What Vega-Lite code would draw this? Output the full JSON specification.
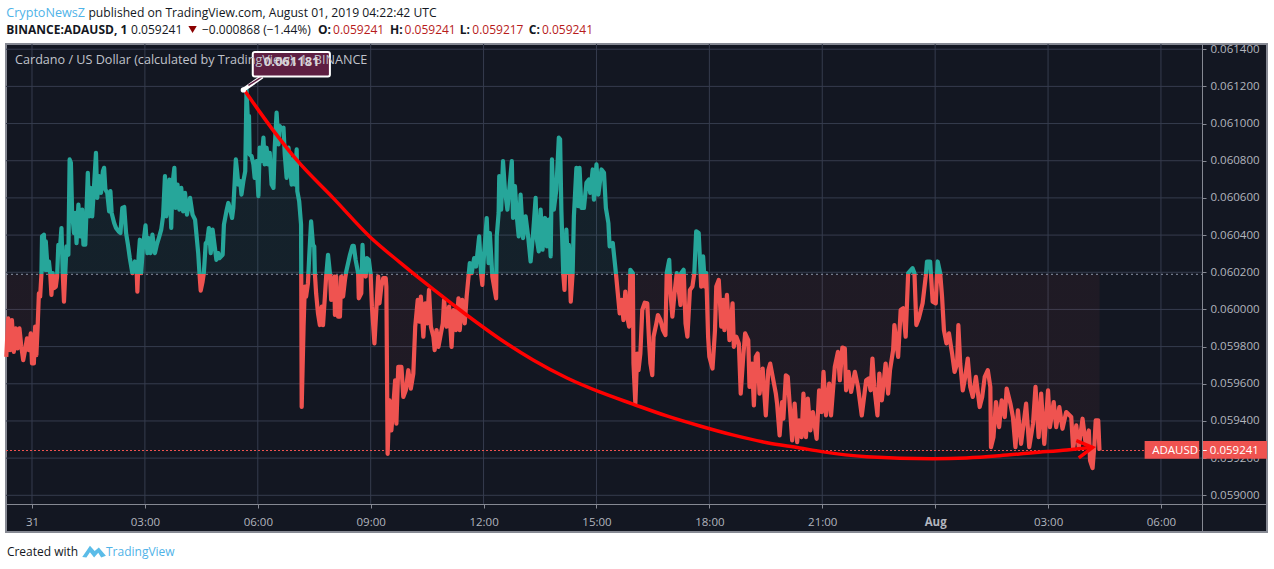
{"$schema":"https://vega.github.io/schema/vega-lite/v6.json","width":1261,"height":488,"autosize":"none","padding":{"left":6,"top":44,"right":7,"bottom":37},"background":"#ffffff","config":{"font":"Open Sans","view":{"fill":"#131722","stroke":"#868993","strokeWidth":2}},"resolve":{"axis":{"x":"independent","y":"independent"}},"data":{"values":[{}]},"datasets":{"gridX":[{"m":0},{"m":180},{"m":360},{"m":540},{"m":720},{"m":900},{"m":1080},{"m":1260},{"m":1440},{"m":1620},{"m":1800}],"gridY":[{"p":0.059},{"p":0.0592},{"p":0.0594},{"p":0.0596},{"p":0.0598},{"p":0.06},{"p":0.0602},{"p":0.0604},{"p":0.0606},{"p":0.0608},{"p":0.061},{"p":0.0612},{"p":0.0614}],"curve":[{"m":339.5,"p":0.061175},{"m":384,"p":0.060966},{"m":422,"p":0.060804},{"m":480,"p":0.0606},{"m":539,"p":0.06039},{"m":587,"p":0.060252},{"m":639,"p":0.06011},{"m":693,"p":0.05997},{"m":746,"p":0.059841},{"m":799,"p":0.059728},{"m":853,"p":0.059631},{"m":905,"p":0.059556},{"m":958,"p":0.059491},{"m":1012,"p":0.059427},{"m":1065,"p":0.059373},{"m":1117,"p":0.059325},{"m":1172,"p":0.059283},{"m":1224,"p":0.059255},{"m":1259,"p":0.059235},{"m":1331,"p":0.059208},{"m":1436,"p":0.059197},{"m":1490,"p":0.059201},{"m":1543,"p":0.059213},{"m":1596,"p":0.059229},{"m":1650,"p":0.059244},{"m":1691,"p":0.059258}],"arrow":[{"k":1,"m":1665,"p":0.059294},{"k":2,"m":1691,"p":0.059258},{"k":3,"m":1669,"p":0.059201}],"price":[{"m":-41,"p":0.059745},{"m":-38,"p":0.059952},{"m":-35,"p":0.059781},{"m":-32,"p":0.059943},{"m":-29,"p":0.059772},{"m":-26,"p":0.059898},{"m":-23,"p":0.05979},{"m":-20,"p":0.059898},{"m":-17,"p":0.059799},{"m":-14,"p":0.059727},{"m":-11,"p":0.059781},{"m":-8,"p":0.059844},{"m":-5,"p":0.059781},{"m":-2,"p":0.059871},{"m":0,"p":0.059709},{"m":3,"p":0.059709},{"m":5,"p":0.059907},{"m":7,"p":0.059754},{"m":9,"p":0.059907},{"m":11,"p":0.060087},{"m":13,"p":0.060069},{"m":15,"p":0.060186},{"m":16,"p":0.060393},{"m":19,"p":0.060402},{"m":21,"p":0.060213},{"m":22,"p":0.060366},{"m":25,"p":0.060213},{"m":27,"p":0.060258},{"m":29,"p":0.060195},{"m":31,"p":0.060078},{"m":33,"p":0.060195},{"m":35,"p":0.060114},{"m":38,"p":0.060123},{"m":40,"p":0.060177},{"m":42,"p":0.060348},{"m":45,"p":0.060348},{"m":47,"p":0.060438},{"m":49,"p":0.060195},{"m":51,"p":0.060042},{"m":53,"p":0.060195},{"m":55,"p":0.060339},{"m":58,"p":0.060294},{"m":60,"p":0.060807},{"m":62,"p":0.060789},{"m":64,"p":0.060519},{"m":67,"p":0.060411},{"m":69,"p":0.060519},{"m":71,"p":0.060357},{"m":74,"p":0.060564},{"m":77,"p":0.060393},{"m":80,"p":0.060537},{"m":82,"p":0.060348},{"m":85,"p":0.060348},{"m":89,"p":0.060735},{"m":91,"p":0.060501},{"m":93,"p":0.060654},{"m":96,"p":0.060501},{"m":98,"p":0.060609},{"m":102,"p":0.060843},{"m":104,"p":0.0606},{"m":107,"p":0.060717},{"m":110,"p":0.060627},{"m":113,"p":0.060744},{"m":115,"p":0.060762},{"m":117,"p":0.060645},{"m":120,"p":0.060627},{"m":123,"p":0.060528},{"m":125,"p":0.060636},{"m":127,"p":0.060519},{"m":131,"p":0.060465},{"m":134,"p":0.060438},{"m":138,"p":0.06042},{"m":141,"p":0.060411},{"m":144,"p":0.060546},{"m":147,"p":0.060551},{"m":150,"p":0.060411},{"m":153,"p":0.060348},{"m":156,"p":0.060276},{"m":160,"p":0.060195},{"m":164,"p":0.060258},{"m":167,"p":0.060195},{"m":168,"p":0.060096},{"m":170,"p":0.060285},{"m":172,"p":0.060375},{"m":174,"p":0.060195},{"m":177,"p":0.060339},{"m":181,"p":0.060452},{"m":184,"p":0.060303},{"m":186,"p":0.060384},{"m":189,"p":0.060303},{"m":192,"p":0.060402},{"m":196,"p":0.060303},{"m":199,"p":0.060348},{"m":203,"p":0.060393},{"m":206,"p":0.060429},{"m":209,"p":0.060501},{"m":212,"p":0.060717},{"m":214,"p":0.060501},{"m":217,"p":0.060564},{"m":219,"p":0.060699},{"m":222,"p":0.060438},{"m":224,"p":0.060672},{"m":227,"p":0.060762},{"m":229,"p":0.060546},{"m":232,"p":0.060672},{"m":235,"p":0.060537},{"m":238,"p":0.060654},{"m":241,"p":0.060528},{"m":244,"p":0.060627},{"m":247,"p":0.06051},{"m":252,"p":0.0606},{"m":256,"p":0.06051},{"m":260,"p":0.060483},{"m":262,"p":0.060411},{"m":265,"p":0.060303},{"m":267,"p":0.060195},{"m":269,"p":0.060101},{"m":272,"p":0.06015},{"m":274,"p":0.060195},{"m":277,"p":0.060357},{"m":279,"p":0.060357},{"m":282,"p":0.060438},{"m":285,"p":0.060303},{"m":288,"p":0.060429},{"m":291,"p":0.060348},{"m":294,"p":0.060267},{"m":297,"p":0.060303},{"m":299,"p":0.060276},{"m":304,"p":0.060294},{"m":306,"p":0.060456},{"m":310,"p":0.060528},{"m":313,"p":0.060573},{"m":316,"p":0.060537},{"m":319,"p":0.060492},{"m":321,"p":0.060546},{"m":325,"p":0.060807},{"m":327,"p":0.060744},{"m":329,"p":0.060672},{"m":332,"p":0.06069},{"m":334,"p":0.060618},{"m":337,"p":0.06069},{"m":340,"p":0.060744},{"m":342,"p":0.061181},{"m":344,"p":0.061032},{"m":346,"p":0.061041},{"m":347,"p":0.060834},{"m":350,"p":0.060825},{"m":353,"p":0.06078},{"m":355,"p":0.060708},{"m":358,"p":0.060798},{"m":361,"p":0.060609},{"m":363,"p":0.06087},{"m":366,"p":0.060798},{"m":369,"p":0.060924},{"m":371,"p":0.06078},{"m":374,"p":0.06087},{"m":377,"p":0.06078},{"m":379,"p":0.060843},{"m":382,"p":0.060672},{"m":385,"p":0.060654},{"m":387,"p":0.06087},{"m":390,"p":0.061059},{"m":393,"p":0.060888},{"m":395,"p":0.060987},{"m":398,"p":0.060969},{"m":401,"p":0.060978},{"m":403,"p":0.060834},{"m":406,"p":0.060708},{"m":409,"p":0.06087},{"m":411,"p":0.06078},{"m":414,"p":0.060672},{"m":417,"p":0.060816},{"m":419,"p":0.060672},{"m":422,"p":0.060861},{"m":423,"p":0.060636},{"m":426,"p":0.060582},{"m":429,"p":0.060456},{"m":430,"p":0.059475},{"m":433,"p":0.059907},{"m":435,"p":0.060123},{"m":437,"p":0.060069},{"m":440,"p":0.060141},{"m":442,"p":0.060285},{"m":445,"p":0.060474},{"m":448,"p":0.060348},{"m":450,"p":0.060339},{"m":451,"p":0.060195},{"m":453,"p":0.060087},{"m":456,"p":0.059979},{"m":459,"p":0.059916},{"m":462,"p":0.060015},{"m":464,"p":0.059916},{"m":467,"p":0.060069},{"m":469,"p":0.060177},{"m":472,"p":0.060294},{"m":475,"p":0.060195},{"m":477,"p":0.060051},{"m":482,"p":0.060177},{"m":483,"p":0.05997},{"m":485,"p":0.060177},{"m":488,"p":0.059961},{"m":491,"p":0.059961},{"m":493,"p":0.060177},{"m":496,"p":0.060069},{"m":499,"p":0.060159},{"m":501,"p":0.060204},{"m":507,"p":0.060294},{"m":511,"p":0.060342},{"m":513,"p":0.060342},{"m":516,"p":0.060267},{"m":520,"p":0.060195},{"m":521,"p":0.06006},{"m":525,"p":0.060087},{"m":527,"p":0.060348},{"m":529,"p":0.060195},{"m":532,"p":0.060177},{"m":534,"p":0.060276},{"m":537,"p":0.060267},{"m":540,"p":0.060186},{"m":542,"p":0.060015},{"m":546,"p":0.059817},{"m":549,"p":0.059997},{"m":552,"p":0.060177},{"m":554,"p":0.060033},{"m":557,"p":0.060123},{"m":560,"p":0.060168},{"m":564,"p":0.060168},{"m":565,"p":0.060123},{"m":567,"p":0.059223},{"m":570,"p":0.059511},{"m":573,"p":0.059349},{"m":576,"p":0.059475},{"m":579,"p":0.059619},{"m":581,"p":0.059385},{"m":584,"p":0.059691},{"m":589,"p":0.059691},{"m":592,"p":0.059529},{"m":596,"p":0.059565},{"m":600,"p":0.059673},{"m":604,"p":0.059574},{"m":608,"p":0.059655},{"m":611,"p":0.059907},{"m":615,"p":0.060051},{"m":618,"p":0.059934},{"m":620,"p":0.060069},{"m":624,"p":0.059853},{"m":627,"p":0.060033},{"m":630,"p":0.059925},{"m":633,"p":0.060105},{"m":636,"p":0.059907},{"m":640,"p":0.059853},{"m":642,"p":0.059781},{"m":645,"p":0.059889},{"m":648,"p":0.059799},{"m":652,"p":0.059871},{"m":655,"p":0.059925},{"m":657,"p":0.060051},{"m":661,"p":0.059907},{"m":665,"p":0.060015},{"m":669,"p":0.059799},{"m":672,"p":0.059997},{"m":676,"p":0.059889},{"m":680,"p":0.06006},{"m":682,"p":0.059889},{"m":686,"p":0.060051},{"m":690,"p":0.059925},{"m":693,"p":0.060069},{"m":696,"p":0.060177},{"m":698,"p":0.060249},{"m":701,"p":0.060195},{"m":705,"p":0.060276},{"m":708,"p":0.060231},{"m":713,"p":0.060393},{"m":716,"p":0.060195},{"m":718,"p":0.060132},{"m":720,"p":0.060258},{"m":725,"p":0.060492},{"m":728,"p":0.060249},{"m":730,"p":0.060411},{"m":734,"p":0.060177},{"m":740,"p":0.06006},{"m":741,"p":0.060393},{"m":744,"p":0.060519},{"m":745,"p":0.060717},{"m":748,"p":0.060537},{"m":751,"p":0.060798},{"m":754,"p":0.060645},{"m":758,"p":0.060537},{"m":761,"p":0.060645},{"m":765,"p":0.060798},{"m":767,"p":0.060492},{"m":770,"p":0.060663},{"m":773,"p":0.060501},{"m":776,"p":0.060393},{"m":779,"p":0.060618},{"m":783,"p":0.060384},{"m":787,"p":0.060501},{"m":791,"p":0.060393},{"m":795,"p":0.060258},{"m":799,"p":0.060411},{"m":803,"p":0.0606},{"m":805,"p":0.060375},{"m":808,"p":0.060312},{"m":811,"p":0.060537},{"m":814,"p":0.060321},{"m":818,"p":0.060492},{"m":821,"p":0.060339},{"m":824,"p":0.060483},{"m":827,"p":0.060285},{"m":829,"p":0.060807},{"m":832,"p":0.060537},{"m":836,"p":0.060645},{"m":840,"p":0.060924},{"m":842,"p":0.060915},{"m":844,"p":0.060537},{"m":847,"p":0.060195},{"m":849,"p":0.060105},{"m":852,"p":0.060429},{"m":855,"p":0.060195},{"m":856,"p":0.060348},{"m":859,"p":0.060042},{"m":862,"p":0.060195},{"m":864,"p":0.060501},{"m":868,"p":0.060762},{"m":871,"p":0.060555},{"m":873,"p":0.060762},{"m":876,"p":0.060546},{"m":880,"p":0.060546},{"m":884,"p":0.060681},{"m":888,"p":0.060699},{"m":890,"p":0.060627},{"m":894,"p":0.060753},{"m":896,"p":0.060591},{"m":900,"p":0.06078},{"m":903,"p":0.060618},{"m":908,"p":0.060753},{"m":912,"p":0.060735},{"m":915,"p":0.060546},{"m":919,"p":0.060465},{"m":921,"p":0.060339},{"m":926,"p":0.060357},{"m":931,"p":0.060195},{"m":934,"p":0.060087},{"m":937,"p":0.059979},{"m":940,"p":0.060051},{"m":943,"p":0.059943},{"m":946,"p":0.060096},{"m":949,"p":0.059961},{"m":952,"p":0.059907},{"m":954,"p":0.060213},{"m":958,"p":0.060195},{"m":959,"p":0.059709},{"m":962,"p":0.059493},{"m":965,"p":0.059763},{"m":967,"p":0.059673},{"m":970,"p":0.059763},{"m":973,"p":0.059997},{"m":977,"p":0.060036},{"m":981,"p":0.060033},{"m":984,"p":0.059817},{"m":986,"p":0.059709},{"m":989,"p":0.059646},{"m":991,"p":0.059853},{"m":995,"p":0.059916},{"m":998,"p":0.05997},{"m":1002,"p":0.059943},{"m":1006,"p":0.059889},{"m":1010,"p":0.059862},{"m":1012,"p":0.060195},{"m":1016,"p":0.060267},{"m":1018,"p":0.060087},{"m":1021,"p":0.059961},{"m":1025,"p":0.060105},{"m":1028,"p":0.060195},{"m":1034,"p":0.060024},{"m":1035,"p":0.060195},{"m":1039,"p":0.060213},{"m":1042,"p":0.059925},{"m":1045,"p":0.059853},{"m":1049,"p":0.060105},{"m":1053,"p":0.060123},{"m":1056,"p":0.060195},{"m":1059,"p":0.06042},{"m":1063,"p":0.060411},{"m":1066,"p":0.060195},{"m":1067,"p":0.060123},{"m":1070,"p":0.060285},{"m":1073,"p":0.060123},{"m":1075,"p":0.060195},{"m":1078,"p":0.059853},{"m":1080,"p":0.059745},{"m":1085,"p":0.059682},{"m":1089,"p":0.059889},{"m":1091,"p":0.060123},{"m":1095,"p":0.060159},{"m":1099,"p":0.059907},{"m":1102,"p":0.060051},{"m":1104,"p":0.059889},{"m":1108,"p":0.060078},{"m":1112,"p":0.059835},{"m":1117,"p":0.060033},{"m":1119,"p":0.059799},{"m":1123,"p":0.059853},{"m":1127,"p":0.059817},{"m":1130,"p":0.059547},{"m":1134,"p":0.059745},{"m":1137,"p":0.059871},{"m":1142,"p":0.059835},{"m":1144,"p":0.059583},{"m":1148,"p":0.059709},{"m":1151,"p":0.059484},{"m":1154,"p":0.059745},{"m":1157,"p":0.059763},{"m":1160,"p":0.059547},{"m":1165,"p":0.059682},{"m":1170,"p":0.05943},{"m":1174,"p":0.059673},{"m":1177,"p":0.059709},{"m":1181,"p":0.059637},{"m":1186,"p":0.059547},{"m":1188,"p":0.059493},{"m":1192,"p":0.059322},{"m":1196,"p":0.059502},{"m":1198,"p":0.059412},{"m":1202,"p":0.059646},{"m":1205,"p":0.059637},{"m":1208,"p":0.059493},{"m":1212,"p":0.059295},{"m":1216,"p":0.059493},{"m":1220,"p":0.059286},{"m":1223,"p":0.059403},{"m":1227,"p":0.059313},{"m":1230,"p":0.059547},{"m":1234,"p":0.059313},{"m":1237,"p":0.05952},{"m":1241,"p":0.059349},{"m":1245,"p":0.059448},{"m":1251,"p":0.059304},{"m":1255,"p":0.059565},{"m":1259,"p":0.059448},{"m":1262,"p":0.059664},{"m":1266,"p":0.05943},{"m":1271,"p":0.059601},{"m":1274,"p":0.05943},{"m":1280,"p":0.059691},{"m":1285,"p":0.059772},{"m":1288,"p":0.059619},{"m":1292,"p":0.059795},{"m":1296,"p":0.05979},{"m":1298,"p":0.059565},{"m":1302,"p":0.059664},{"m":1306,"p":0.059556},{"m":1312,"p":0.059664},{"m":1317,"p":0.059583},{"m":1323,"p":0.05943},{"m":1330,"p":0.059619},{"m":1334,"p":0.059628},{"m":1337,"p":0.059565},{"m":1340,"p":0.059736},{"m":1343,"p":0.059583},{"m":1348,"p":0.05943},{"m":1351,"p":0.059655},{"m":1355,"p":0.059511},{"m":1361,"p":0.059709},{"m":1365,"p":0.059547},{"m":1368,"p":0.059673},{"m":1373,"p":0.059781},{"m":1375,"p":0.059916},{"m":1381,"p":0.059745},{"m":1385,"p":0.059997},{"m":1389,"p":0.060006},{"m":1393,"p":0.059853},{"m":1397,"p":0.060195},{"m":1404,"p":0.060222},{"m":1407,"p":0.060195},{"m":1410,"p":0.059916},{"m":1414,"p":0.059952},{"m":1420,"p":0.060033},{"m":1425,"p":0.060177},{"m":1427,"p":0.060258},{"m":1432,"p":0.060258},{"m":1436,"p":0.060042},{"m":1441,"p":0.060033},{"m":1444,"p":0.060258},{"m":1448,"p":0.060195},{"m":1451,"p":0.060069},{"m":1454,"p":0.059889},{"m":1458,"p":0.059817},{"m":1462,"p":0.059871},{"m":1467,"p":0.059763},{"m":1471,"p":0.059664},{"m":1475,"p":0.059709},{"m":1477,"p":0.059916},{"m":1480,"p":0.059709},{"m":1484,"p":0.059565},{"m":1488,"p":0.059637},{"m":1492,"p":0.059736},{"m":1496,"p":0.059583},{"m":1500,"p":0.059529},{"m":1505,"p":0.059637},{"m":1511,"p":0.059475},{"m":1515,"p":0.059529},{"m":1519,"p":0.059637},{"m":1524,"p":0.059673},{"m":1528,"p":0.059583},{"m":1529,"p":0.059259},{"m":1533,"p":0.059313},{"m":1537,"p":0.059502},{"m":1542,"p":0.059367},{"m":1546,"p":0.059511},{"m":1551,"p":0.059421},{"m":1554,"p":0.059574},{"m":1560,"p":0.059493},{"m":1564,"p":0.059421},{"m":1568,"p":0.059259},{"m":1572,"p":0.059457},{"m":1577,"p":0.059277},{"m":1585,"p":0.059493},{"m":1590,"p":0.059259},{"m":1596,"p":0.059385},{"m":1600,"p":0.059583},{"m":1605,"p":0.059313},{"m":1609,"p":0.059547},{"m":1614,"p":0.059277},{"m":1620,"p":0.059565},{"m":1623,"p":0.059367},{"m":1629,"p":0.059502},{"m":1633,"p":0.059367},{"m":1638,"p":0.059475},{"m":1643,"p":0.059358},{"m":1649,"p":0.059448},{"m":1657,"p":0.059421},{"m":1660,"p":0.05925},{"m":1665,"p":0.059376},{"m":1669,"p":0.059259},{"m":1675,"p":0.059412},{"m":1680,"p":0.059277},{"m":1685,"p":0.059349},{"m":1687,"p":0.059187},{"m":1691,"p":0.059147},{"m":1694,"p":0.059277},{"m":1696,"p":0.059403},{"m":1700,"p":0.059403},{"m":1702,"p":0.059241}]},"layer":[{"data":{"name":"gridX"},"mark":{"type":"rule","color":"#363c4e","strokeWidth":1},"encoding":{"x":{"field":"m","type":"quantitative","scale":{"domain":[-41.45,1969.1],"nice":false,"zero":false},"axis":{"title":null,"orient":"bottom","offset":-28,"grid":false,"values":[0,180,360,540,720,900,1080,1260,1440,1620,1800],"labelExpr":"datum.value==0?'31':datum.value==1440?'Aug':utcFormat(datum.value*60000,'%H:%M')","labelFontSize":11.5,"labelColor":"#b2b5be","labelFontWeight":{"condition":{"test":"datum.value==1440","value":"bold"},"value":"normal"},"labelPadding":8,"tickSize":4,"tickColor":"#868993","domainColor":"#868993","labelOverlap":false}},"y":{"datum":0.061428,"scale":{"domain":[0.0588026,0.061428],"nice":false,"zero":false},"axis":null},"y2":{"datum":0.0589535}}},{"data":{"name":"gridY"},"mark":{"type":"rule","color":"#363c4e","strokeWidth":1},"encoding":{"y":{"field":"p","type":"quantitative","axis":{"title":null,"orient":"right","offset":-65,"grid":false,"values":[0.059,0.0592,0.0594,0.0596,0.0598,0.06,0.0602,0.0604,0.0606,0.0608,0.061,0.0612,0.0614],"format":".6f","labelFontSize":11.5,"labelColor":"#b2b5be","labelPadding":4,"tickSize":4,"tickColor":"#868993","domainColor":"#868993","labelOverlap":false}},"x":{"datum":-41.45,"axis":null},"x2":{"datum":1865.5}}},{"data":{"name":"price"},"mark":{"type":"area","fill":{"gradient":"linear","x1":0,"y1":0,"x2":0,"y2":1,"stops":[{"offset":0,"color":"rgba(38,166,154,0.07)"},{"offset":0.4877,"color":"rgba(38,166,154,0.07)"},{"offset":0.4877,"color":"rgba(239,83,80,0.055)"},{"offset":1,"color":"rgba(239,83,80,0.055)"}]}},"encoding":{"x":{"field":"m","type":"quantitative","axis":null},"y":{"field":"p","type":"quantitative","axis":null},"y2":{"datum":0.060189}}},{"mark":{"type":"rule","color":"#8a93a6","strokeDash":[2,3],"strokeWidth":1},"encoding":{"y":{"datum":0.060189,"axis":null},"x":{"datum":-41.45,"axis":null},"x2":{"datum":1865.5}}},{"data":{"name":"price"},"mark":{"type":"line","strokeWidth":4.2,"strokeJoin":"round","stroke":{"gradient":"linear","x1":0,"y1":0,"x2":0,"y2":1,"stops":[{"offset":0,"color":"#26a69a"},{"offset":0.4877,"color":"#26a69a"},{"offset":0.4877,"color":"#ef5350"},{"offset":1,"color":"#ef5350"}]}},"encoding":{"x":{"field":"m","type":"quantitative","axis":null},"y":{"field":"p","type":"quantitative","axis":null}}},{"mark":{"type":"rule","color":"#ef5350","strokeDash":[2,2],"strokeWidth":1},"encoding":{"y":{"datum":0.059241,"axis":null},"x":{"datum":-41.45,"axis":null},"x2":{"datum":1865.5}}},{"mark":{"type":"rect","fill":"#ef5350"},"encoding":{"x":{"datum":1774,"axis":null},"x2":{"datum":1861},"y":{"datum":0.059292,"axis":null},"y2":{"datum":0.059197}}},{"mark":{"type":"rect","fill":"#ef5350"},"encoding":{"x":{"datum":1867,"axis":null},"x2":{"datum":1969},"y":{"datum":0.059292,"axis":null},"y2":{"datum":0.059197}}},{"mark":{"type":"rule","color":"#ffffff","strokeWidth":1},"encoding":{"y":{"datum":0.059241,"axis":null},"x":{"datum":1867,"axis":null},"x2":{"datum":1873}}},{"mark":{"type":"text","text":"ADAUSD","color":"#ffffff","fontSize":11.5,"align":"left","baseline":"middle"},"encoding":{"x":{"datum":1786,"axis":null},"y":{"datum":0.059241,"axis":null}}},{"mark":{"type":"text","text":"0.059241","color":"#ffffff","fontSize":11.5,"align":"left","baseline":"middle"},"encoding":{"x":{"datum":1878,"axis":null},"y":{"datum":0.059241,"axis":null}}},{"mark":{"type":"rule","color":"#ffffff","strokeWidth":4},"encoding":{"x":{"datum":337,"axis":null},"x2":{"datum":367},"y":{"datum":0.061181,"axis":null},"y2":{"datum":0.061253}}},{"mark":{"type":"rule","color":"#5e1f42","strokeWidth":1.5},"encoding":{"x":{"datum":345,"axis":null},"x2":{"datum":367},"y":{"datum":0.061205,"axis":null},"y2":{"datum":0.061253}}},{"mark":{"type":"rect","fill":"#5e1f42","stroke":"#ffffff","strokeWidth":2,"cornerRadius":2},"encoding":{"x":{"datum":352,"axis":null},"x2":{"datum":475},"y":{"datum":0.061385,"axis":null},"y2":{"datum":0.061253}}},{"mark":{"type":"text","text":"Cardano / US Dollar (calculated by TradingView), 1, BINANCE","color":"#c0c3cb","fontSize":12.6,"align":"left","baseline":"middle"},"encoding":{"x":{"datum":-27,"axis":null},"y":{"datum":0.061342,"axis":null}}},{"mark":{"type":"text","text":"0.061181","color":"#d8d3d8","fontSize":13,"fontWeight":"bold","align":"center","baseline":"middle"},"encoding":{"x":{"datum":414,"axis":null},"y":{"datum":0.061331,"axis":null}}},{"data":{"name":"curve"},"mark":{"type":"line","color":"#ff0000","strokeWidth":3.5,"interpolate":"monotone"},"encoding":{"x":{"field":"m","type":"quantitative","axis":null},"y":{"field":"p","type":"quantitative","axis":null}}},{"data":{"name":"arrow"},"mark":{"type":"line","color":"#ff0000","strokeWidth":3.5},"encoding":{"x":{"field":"m","type":"quantitative","axis":null},"y":{"field":"p","type":"quantitative","axis":null},"order":{"field":"k"}}},{"mark":{"type":"point","shape":"circle","filled":true,"color":"#ffffff","opacity":1,"size":28},"encoding":{"x":{"datum":337,"axis":null},"y":{"datum":0.061181,"axis":null}}},{"mark":{"type":"text","text":"CryptoNewsZ","color":"#4fb3e8","fontSize":12.6,"align":"left","baseline":"middle"},"encoding":{"x":{"datum":-41,"axis":null},"y":{"datum":0.061597,"axis":null}}},{"mark":{"type":"text","text":"published on TradingView.com, August 01, 2019 04:22:42 UTC","color":"#131722","fontSize":12.15,"align":"left","baseline":"middle"},"encoding":{"x":{"datum":90,"axis":null},"y":{"datum":0.061597,"axis":null}}},{"mark":{"type":"text","text":"BINANCE:ADAUSD, 1","color":"#131722","fontSize":12,"fontWeight":"bold","align":"left","baseline":"middle"},"encoding":{"x":{"datum":-41,"axis":null},"y":{"datum":0.061506,"axis":null}}},{"mark":{"type":"text","text":"0.059241","color":"#131722","fontSize":12,"align":"left","baseline":"middle"},"encoding":{"x":{"datum":158,"axis":null},"y":{"datum":0.061506,"axis":null}}},{"mark":{"type":"point","shape":"triangle-down","filled":true,"color":"#8b0000","opacity":1,"size":70},"encoding":{"x":{"datum":256,"axis":null},"y":{"datum":0.061506,"axis":null}}},{"mark":{"type":"text","text":"−0.000868 (−1.44%)","color":"#131722","fontSize":12,"align":"left","baseline":"middle"},"encoding":{"x":{"datum":271,"axis":null},"y":{"datum":0.061506,"axis":null}}},{"mark":{"type":"text","text":"O:","color":"#131722","fontSize":12,"fontWeight":"bold","align":"left","baseline":"middle"},"encoding":{"x":{"datum":456,"axis":null},"y":{"datum":0.061506,"axis":null}}},{"mark":{"type":"text","text":"0.059241","color":"#b71c1c","fontSize":12,"align":"left","baseline":"middle"},"encoding":{"x":{"datum":480,"axis":null},"y":{"datum":0.061506,"axis":null}}},{"mark":{"type":"text","text":"H:","color":"#131722","fontSize":12,"fontWeight":"bold","align":"left","baseline":"middle"},"encoding":{"x":{"datum":571,"axis":null},"y":{"datum":0.061506,"axis":null}}},{"mark":{"type":"text","text":"0.059241","color":"#b71c1c","fontSize":12,"align":"left","baseline":"middle"},"encoding":{"x":{"datum":594,"axis":null},"y":{"datum":0.061506,"axis":null}}},{"mark":{"type":"text","text":"L:","color":"#131722","fontSize":12,"fontWeight":"bold","align":"left","baseline":"middle"},"encoding":{"x":{"datum":682,"axis":null},"y":{"datum":0.061506,"axis":null}}},{"mark":{"type":"text","text":"0.059217","color":"#b71c1c","fontSize":12,"align":"left","baseline":"middle"},"encoding":{"x":{"datum":702,"axis":null},"y":{"datum":0.061506,"axis":null}}},{"mark":{"type":"text","text":"C:","color":"#131722","fontSize":12,"fontWeight":"bold","align":"left","baseline":"middle"},"encoding":{"x":{"datum":792,"axis":null},"y":{"datum":0.061506,"axis":null}}},{"mark":{"type":"text","text":"0.059241","color":"#b71c1c","fontSize":12,"align":"left","baseline":"middle"},"encoding":{"x":{"datum":813,"axis":null},"y":{"datum":0.061506,"axis":null}}},{"mark":{"type":"text","text":"Created with","color":"#131722","fontSize":12,"align":"left","baseline":"middle"},"encoding":{"x":{"datum":-40,"axis":null},"y":{"datum":0.058697,"axis":null}}},{"mark":{"type":"point","shape":"M-1,0.45 L-0.35,-0.5 L0.05,-0.05 L0.4,-0.35 L1,0.35 L0.6,0.5 L0.35,0.1 L0,0.5 L-0.35,0.05 L-0.65,0.5 Z","filled":true,"color":"#5bbce8","opacity":1,"size":560},"encoding":{"x":{"datum":99,"axis":null},"y":{"datum":0.058697,"axis":null}}},{"mark":{"type":"text","text":"TradingView","color":"#4fb3e8","fontSize":12,"align":"left","baseline":"middle"},"encoding":{"x":{"datum":118,"axis":null},"y":{"datum":0.058697,"axis":null}}}]}
